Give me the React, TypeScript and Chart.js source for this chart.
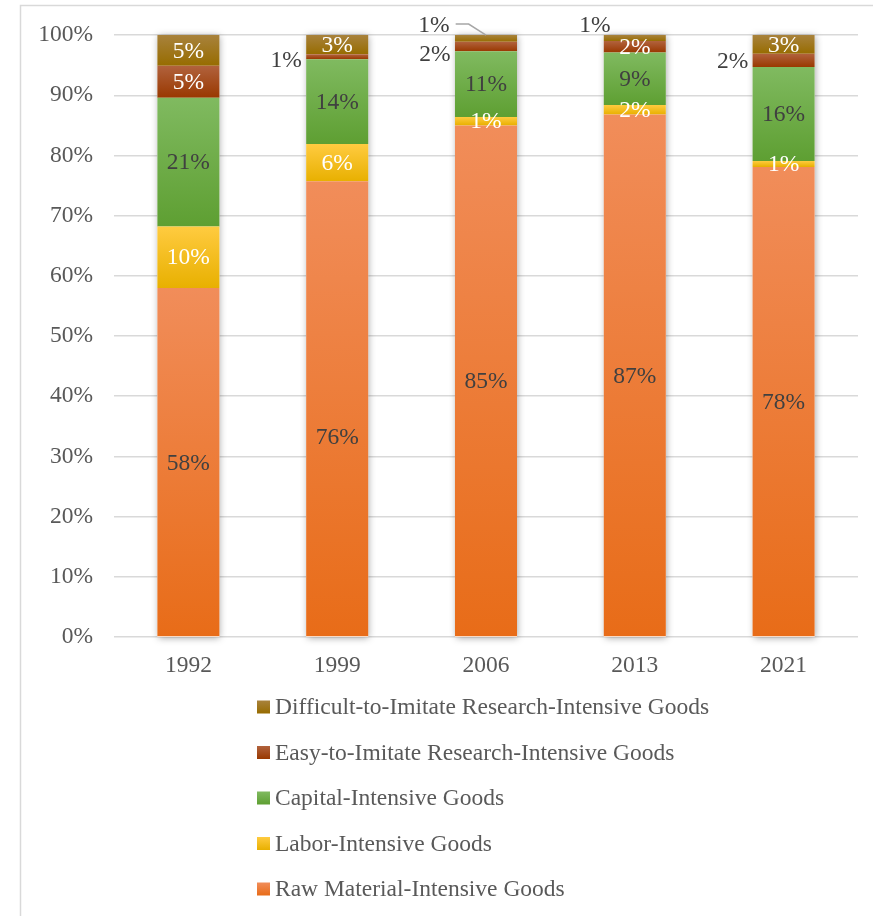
import React, { useEffect, useRef } from "react";
import { Chart, registerables } from "chart.js";

Chart.register(...registerables);

const years = ["1992", "1999", "2006", "2013", "2021"];
const seriesNames = [
  "Raw Material-Intensive Goods",
  "Labor-Intensive Goods",
  "Capital-Intensive Goods",
  "Easy-to-Imitate Research-Intensive Goods",
  "Difficult-to-Imitate Research-Intensive Goods",
];
const rawMaterial = [58.0, 75.7, 85.0, 86.8, 78.1];
const labor = [10.2, 6.2, 1.4, 1.6, 1.0];
const capital = [21.4, 14.1, 10.9, 8.7, 15.6];
const easyResearch = [5.3, 0.8, 1.6, 1.9, 2.2];
const difficultResearch = [5.1, 3.2, 1.1, 1.0, 3.1];
const yTicks = [0, 10, 20, 30, 40, 50, 60, 70, 80, 90, 100];

const seriesValues = [rawMaterial, labor, capital, easyResearch, difficultResearch];

// gradient colours (top, bottom) per series
const gradients: [string, string][] = [
  ["#F18D5A", "#E86C18"],
  ["#FFCB40", "#E8B000"],
  ["#80BA60", "#5E9F32"],
  ["#B1623D", "#993800"],
  ["#A8823C", "#976C00"],
];
const labelColors = ["#404040", "#FFFFFF", "#404040", "#FFFFFF", "#FFFFFF"];

// small segments whose labels sit outside the bar
const outsideLabels = [
  { ds: 3, i: 1, dx: -51, dy: 4, leader: false, anchor: "segment" },
  { ds: 3, i: 2, dx: -51, dy: 8, leader: false, anchor: "segment" },
  { ds: 4, i: 2, dx: -52, dy: -9, leader: true, anchor: "top" },
  { ds: 4, i: 3, dx: -40, dy: -9, leader: false, anchor: "top" },
  { ds: 3, i: 4, dx: -51, dy: 1, leader: false, anchor: "segment" },
];
// inside labels nudged from segment centre
const insideLabelShift = [{ ds: 0, i: 1, dy: 28 }];

const FONT = '"Liberation Serif", "Times New Roman", serif';
const FS = 23.5;

function cumBelow(ds: number, i: number) {
  let s = 0;
  for (let k = 0; k < ds; k++) s += seriesValues[k][i];
  return s;
}

export default function App() {
  const ref = useRef<HTMLCanvasElement | null>(null);

  useEffect(() => {
    if (!ref.current) return;

    const framePlugin = {
      id: "frame",
      beforeDraw(chart: any) {
        const c = chart.ctx;
        c.save();
        c.fillStyle = "#FFFFFF";
        c.fillRect(0, 0, chart.width, chart.height);
        c.strokeStyle = "#D9D9D9";
        c.lineWidth = 1.5;
        c.strokeRect(20.5, 5.5, chart.width + 40, chart.height + 40);
        c.restore();
      },
    };

    const shadowPlugin = {
      id: "barShadow",
      beforeDatasetsDraw(chart: any) {
        const c = chart.ctx;
        const y = chart.scales.y;
        const meta = chart.getDatasetMeta(0);
        c.save();
        c.shadowColor = "rgba(0,0,0,0.35)";
        c.shadowBlur = 7;
        c.shadowOffsetX = 1;
        c.shadowOffsetY = 1;
        c.fillStyle = "#FFFFFF";
        meta.data.forEach((el: any, i: number) => {
          const total = cumBelow(seriesValues.length, i);
          const top = y.getPixelForValue(Math.min(total, 100));
          const bottom = y.getPixelForValue(0);
          c.fillRect(el.x - el.width / 2, top, el.width, bottom - top);
        });
        c.restore();
      },
    };

    const labelPlugin = {
      id: "segLabels",
      afterDatasetsDraw(chart: any) {
        const c = chart.ctx;
        const y = chart.scales.y;
        c.save();
        c.font = `${FS}px ${FONT}`;
        c.textAlign = "center";
        c.textBaseline = "middle";
        chart.data.datasets.forEach((d: any, ds: number) => {
          const meta = chart.getDatasetMeta(ds);
          meta.data.forEach((el: any, i: number) => {
            const v = d.data[i];
            const text = Math.round(v) + "%";
            const bot = cumBelow(ds, i);
            const yTop = y.getPixelForValue(bot + v);
            const yBot = y.getPixelForValue(bot);
            const yc = (yTop + yBot) / 2;
            const o = outsideLabels.find((e) => e.ds === ds && e.i === i);
            if (o) {
              const ty = (o.anchor === "top" ? yTop : yc) + o.dy;
              const tx = el.x + o.dx;
              c.fillStyle = "#404040";
              c.fillText(text, tx, ty);
              if (o.leader) {
                const w = c.measureText(text).width;
                c.strokeStyle = "#A6A6A6";
                c.lineWidth = 1.5;
                c.beginPath();
                c.moveTo(tx + w / 2 + 6, ty - 2);
                c.lineTo(tx + w / 2 + 19, ty - 2);
                c.lineTo(el.x, yTop);
                c.stroke();
              }
            } else {
              const sh = insideLabelShift.find((e) => e.ds === ds && e.i === i);
              c.fillStyle = labelColors[ds];
              c.fillText(text, el.x, yc + 1 + (sh ? sh.dy : 0));
            }
          });
        });
        c.restore();
      },
    };

    const legendPlugin = {
      id: "vLegend",
      afterDraw(chart: any) {
        const c = chart.ctx;
        c.save();
        c.font = `${FS}px ${FONT}`;
        c.textBaseline = "middle";
        c.textAlign = "left";
        const x0 = 257;
        const y0 = 707;
        const step = 45.5;
        const n = seriesNames.length;
        for (let k = 0; k < n; k++) {
          const ds = n - 1 - k;
          const yy = y0 + k * step;
          const g = c.createLinearGradient(0, yy - 6.5, 0, yy + 6.5);
          g.addColorStop(0, gradients[ds][0]);
          g.addColorStop(1, gradients[ds][1]);
          c.fillStyle = g;
          c.fillRect(x0, yy - 6.5, 13, 13);
          c.fillStyle = "#595959";
          c.fillText(seriesNames[ds], x0 + 18, yy + 1);
        }
        c.restore();
      },
    };

    const chart = new Chart(ref.current, {
      type: "bar",
      data: {
        labels: years,
        datasets: seriesValues.map((vals, ds) => ({
          label: seriesNames[ds],
          data: vals,
          borderWidth: 0,
          categoryPercentage: 1,
          barPercentage: 0.417,
          backgroundColor: (ctx: any) => {
            const ch = ctx.chart;
            if (!ch.chartArea || ctx.type !== "data" || !ch.scales.y) return gradients[ds][1];
            const i = ctx.dataIndex;
            const bot = cumBelow(ds, i);
            const y1 = ch.scales.y.getPixelForValue(bot + vals[i]);
            const y2 = ch.scales.y.getPixelForValue(bot);
            if (!isFinite(y1) || !isFinite(y2) || y1 === y2) return gradients[ds][1];
            const g = ch.ctx.createLinearGradient(0, y1, 0, y2);
            g.addColorStop(0, gradients[ds][0]);
            g.addColorStop(1, gradients[ds][1]);
            return g;
          },
        })),
      },
      options: {
        responsive: false,
        animation: false,
        layout: { padding: { left: 20, right: 15, top: 35, bottom: 0 } },
        plugins: {
          legend: { display: false },
          tooltip: { enabled: false },
        },
        scales: {
          x: {
            stacked: true,
            grid: { display: false, drawTicks: false },
            border: { display: false },
            ticks: {
              color: "#595959",
              font: { family: FONT, size: FS },
              padding: 15,
            },
            afterFit: (s: any) => {
              s.height = 279;
            },
          },
          y: {
            stacked: true,
            min: 0,
            max: 100,
            afterBuildTicks: (s: any) => {
              s.ticks = yTicks.map((v) => ({ value: v }));
            },
            grid: { color: "#D9D9D9", lineWidth: 1.5, drawTicks: false },
            border: { display: false },
            ticks: {
              color: "#595959",
              font: { family: FONT, size: FS },
              padding: 21,
              callback: (v: any) => v + "%",
            },
            afterFit: (s: any) => {
              s.width = 94;
            },
          },
        },
      },
      plugins: [framePlugin, shadowPlugin, labelPlugin, legendPlugin],
    } as any);

    return () => chart.destroy();
  }, []);

  return (
    <div style={{ position: "absolute", left: 0, top: 0, width: 873, height: 916 }}>
      <canvas ref={ref} width={873} height={916} />
    </div>
  );
}
